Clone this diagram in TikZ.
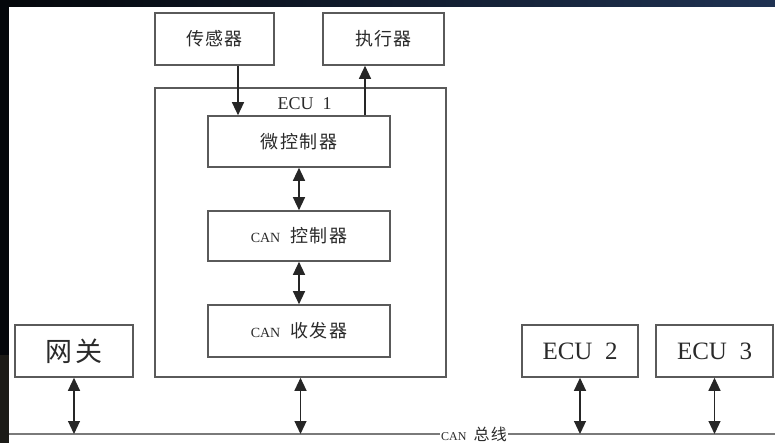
\documentclass[tikz,border=0pt]{standalone}
\usepackage{fontspec}
\setmainfont{Liberation Serif}
\newfontfamily\cjk[LetterSpace=8]{Noto Sans CJK SC}
\usetikzlibrary{arrows.meta}
\definecolor{linegray}{HTML}{5A5A5A}
\definecolor{busgray}{HTML}{7A7A7A}
\definecolor{txt}{HTML}{2A2A2A}
\definecolor{bgdark}{HTML}{04070B}
\definecolor{bgnavy}{HTML}{1F3252}
\definecolor{bgbrown}{HTML}{1C1B17}
\begin{document}
\begin{tikzpicture}[x=1pt,y=-1pt,
  box/.style={draw=linegray, line width=1.6pt, fill=white, inner sep=0pt, text=txt, align=center},
  link/.style={draw=black!85, line width=1.2pt},
  bi/.style={link, {Triangle[length=13pt,width=12pt]}-{Triangle[length=13pt,width=12pt]}},
  uni/.style={link, -{Triangle[length=13pt,width=12pt]}},
  zh/.style={font=\fontsize{18}{20}\selectfont\cjk},
  zhbig/.style={font=\fontsize{27}{28}\selectfont\cjk},
  ecubig/.style={font=\fontsize{25}{28}\selectfont}
]
\useasboundingbox (0,0) rectangle (775,443);
% background
\fill[bgdark] (0,0) rectangle (775,443);
\shade[left color=bgdark, right color=bgnavy] (9,0) rectangle (775,7);
\fill[bgbrown] (0,355) rectangle (9,443);
\fill[white] (9,7) rectangle (775,443);

% boxes
\node[box, zh, minimum width=119pt, minimum height=52pt] (sensor) at (214.5,39) {传感器};
\node[box, zh, minimum width=121pt, minimum height=52pt] (actuator) at (383.5,39) {执行器};
\node[box, minimum width=291pt, minimum height=289pt] (ecu1) at (300.5,232.5) {};
\node[text=txt, font=\fontsize{18}{20}\selectfont, inner sep=0pt] (ecu1lbl) at (304.5,104) {ECU\ \ 1};
\node[box, zh, minimum width=182pt, minimum height=51pt] (mc) at (299,141.5) {微控制器};
\node[box, minimum width=182pt, minimum height=50pt] (canctl) at (299,236) {{\fontsize{14}{16}\selectfont CAN}\hspace{10pt}{\fontsize{18}{20}\selectfont\cjk 控制器}};
\node[box, minimum width=182pt, minimum height=52pt] (cantr) at (299,331) {{\fontsize{14}{16}\selectfont CAN}\hspace{10pt}{\fontsize{18}{20}\selectfont\cjk 收发器}};
\node[box, zhbig, minimum width=118pt, minimum height=52pt] (gateway) at (74,351) {网关};
\node[box, ecubig, minimum width=116pt, minimum height=52pt] (ecu2) at (580,351) {ECU\ \ 2};
\node[box, ecubig, minimum width=117pt, minimum height=52pt] (ecu3) at (714.5,351) {ECU\ \ 3};

% bus
\coordinate (busL) at (9,434);
\coordinate (busR) at (775,434);
\draw[busgray, line width=1.5pt] (busL) -- (busR);
\node[fill=white, inner sep=1.5pt, text=txt] (buslbl) at (474,434) {{\fontsize{12}{14}\selectfont CAN}\hspace{7pt}{\fontsize{16}{16}\selectfont\cjk 总线}};

% connectors
\coordinate (sx) at (238,0);
\coordinate (ax) at (365,0);
\draw[uni] (sx |- sensor.south) -- (sx |- mc.north);
\draw[uni] (ax |- mc.north) -- (ax |- actuator.south);
\draw[bi] (mc.south) -- (canctl.north);
\draw[bi] (canctl.south) -- (cantr.north);
\draw[bi] (gateway.south) -- (gateway.south |- busL);
\draw[bi] (ecu1.south) -- (ecu1.south |- busL);
\draw[bi] (ecu2.south) -- (ecu2.south |- busL);
\draw[bi] (ecu3.south) -- (ecu3.south |- busL);
\end{tikzpicture}
\end{document}
